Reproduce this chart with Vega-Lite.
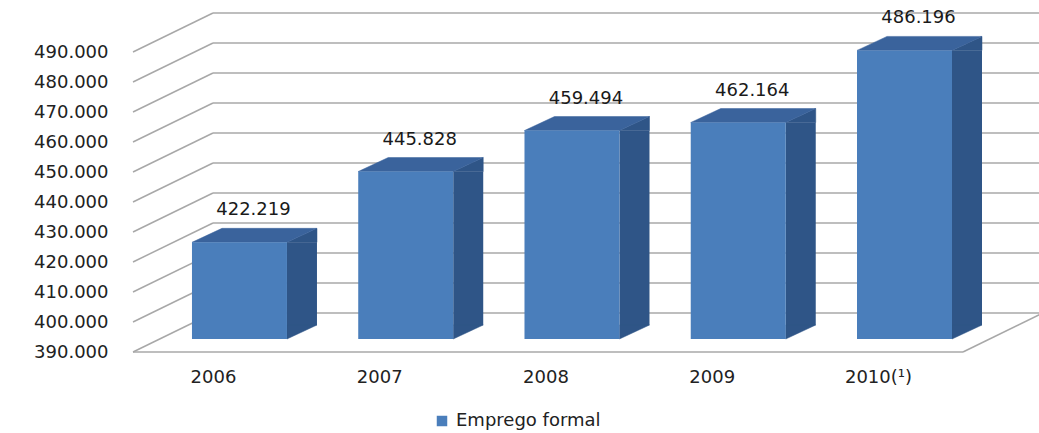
{
  "$schema": "https://vega.github.io/schema/vega-lite/v6.json",
  "width": 906,
  "height": 330,
  "autosize": {"type": "none"},
  "padding": {"left": 133, "top": 9, "right": 0, "bottom": 94},
  "config": {
    "view": {"stroke": null},
    "font": "DejaVu Sans",
    "axisY": {"labelOverlap": false, "labelFontSize": 18, "labelColor": "#222222", "labelFont": "DejaVu Sans", "ticks": false, "domain": false, "grid": false, "labelPadding": 25, "labelOffset": 13},
    "locale": {"number": {"decimal": ",", "thousands": ".", "grouping": [3], "currency": ["R$ ", ""]}}
  },
  "datasets": {
    "emprego": [
      {"ano": "2006", "valor": 422219},
      {"ano": "2007", "valor": 445828},
      {"ano": "2008", "valor": 459494},
      {"ano": "2009", "valor": 462164},
      {"ano": "2010(¹)", "valor": 486196}
    ],
    "ticks": [
      {"v": 390000}, {"v": 400000}, {"v": 410000}, {"v": 420000}, {"v": 430000}, {"v": 440000},
      {"v": 450000}, {"v": 460000}, {"v": 470000}, {"v": 480000}, {"v": 490000}
    ]
  },
  "resolve": {"scale": {"x": "independent"}},
  "layer": [
    {
      "data": {"name": "ticks"},
      "layer": [
        {
          "mark": {"type": "rule", "color": "#a8a8a8", "strokeWidth": 1.5, "yOffset": 13, "y2Offset": -26},
          "encoding": {
            "x": {"datum": 0, "type": "quantitative", "scale": {"domain": [0, 11.325], "nice": false, "zero": false}, "axis": null},
            "x2": {"datum": 1},
            "y": {"field": "v", "type": "quantitative", "title": null,
                  "scale": {"domain": [390000, 500000], "nice": false, "zero": false},
                  "axis": {"values": [390000, 400000, 410000, 420000, 430000, 440000, 450000, 460000, 470000, 480000, 490000],
                           "tickCount": 20, "format": ",d", "labelPadding": 25, "labelOffset": 13, "ticks": false, "domain": false, "grid": false,
                           "labelOverlap": false, "labelFontSize": 18, "labelColor": "#222222", "labelFont": "DejaVu Sans", "title": null}},
            "y2": {"field": "v"}
          }
        },
        {
          "mark": {"type": "rule", "color": "#a8a8a8", "strokeWidth": 1.5, "yOffset": -26},
          "encoding": {
            "x": {"datum": 1, "type": "quantitative"},
            "x2": {"datum": 12},
            "y": {"field": "v", "type": "quantitative", "title": null}
          }
        },
        {
          "data": {"values": [{"base": 390000}]},
          "mark": {"type": "rule", "color": "#a8a8a8", "strokeWidth": 1.5, "yOffset": 13},
          "encoding": {
            "x": {"datum": 0, "type": "quantitative"},
            "x2": {"datum": 10.375},
            "y": {"field": "base", "type": "quantitative", "title": null}
          }
        },
        {
          "data": {"values": [{"base": 390000}]},
          "mark": {"type": "rule", "color": "#a8a8a8", "strokeWidth": 1.5, "yOffset": 13, "y2Offset": -26},
          "encoding": {
            "x": {"datum": 10.375, "type": "quantitative"},
            "x2": {"datum": 11.375},
            "y": {"field": "base", "type": "quantitative", "title": null},
            "y2": {"field": "base"}
          }
        }
      ]
    },
    {
      "data": {"name": "emprego"},
      "encoding": {
        "x": {"field": "ano", "type": "nominal", "sort": null, "title": null,
              "scale": {"paddingInner": 0.4286, "paddingOuter": 0.439, "align": 0.404},
              "axis": {"orient": "bottom", "labelAngle": 0, "labelOffset": -26, "labelPadding": 29, "ticks": false, "domain": false, "grid": false,
                       "labelFontSize": 18, "labelColor": "#222222", "labelFont": "DejaVu Sans", "title": null}},
        "y": {"field": "valor", "type": "quantitative", "title": null,
              "axis": {"values": [390000, 400000, 410000, 420000, 430000, 440000, 450000, 460000, 470000, 480000, 490000],
                       "tickCount": 20, "format": ",d", "labelOverlap": false, "title": null}}
      },
      "layer": [
        {
          "mark": {"type": "bar", "color": "#2f5587", "width": 30, "xOffset": 62.5, "y2Offset": -14},
          "encoding": {"y2": {"datum": 390000}}
        },
        {
          "mark": {"type": "point", "shape": "M0.475,0L0.775,-0.14L0.775,0Z", "size": 40000, "filled": true,
                   "fill": "#2f5587", "stroke": "#2f5587", "strokeWidth": 0.5, "opacity": 1}
        },
        {
          "mark": {"type": "point", "shape": "M0.475,0L0.775,-0.14L0.475,-0.14Z", "size": 40000, "filled": true,
                   "fill": "#2f5587", "stroke": "#2f5587", "strokeWidth": 0.5, "opacity": 1},
          "encoding": {"y": {"datum": 390000, "type": "quantitative"}}
        },
        {
          "mark": {"type": "point", "shape": "M-0.475,0L0.475,0L0.775,-0.14L-0.175,-0.14Z", "size": 40000, "filled": true,
                   "fill": "#3a639c", "stroke": "#3a639c", "strokeWidth": 0.5, "opacity": 1}
        },
        {
          "mark": {"type": "bar"},
          "encoding": {
            "y2": {"datum": 390000},
            "color": {"datum": "Emprego formal", "type": "nominal", "scale": {"range": ["#4a7ebb"]},
                      "legend": {"orient": "none", "legendX": 300, "legendY": 403, "title": null, "symbolType": "square",
                                 "symbolSize": 110, "symbolStrokeWidth": 0, "labelFontSize": 18, "labelFont": "DejaVu Sans",
                                 "labelColor": "#222222", "padding": 0, "labelOffset": 5}}
          }
        },
        {
          "mark": {"type": "text", "dx": 14, "dy": -32, "fontSize": 18, "font": "DejaVu Sans", "color": "#1a1a1a"},
          "encoding": {"text": {"field": "valor", "type": "quantitative", "format": ",d"}}
        }
      ]
    }
  ]
}
